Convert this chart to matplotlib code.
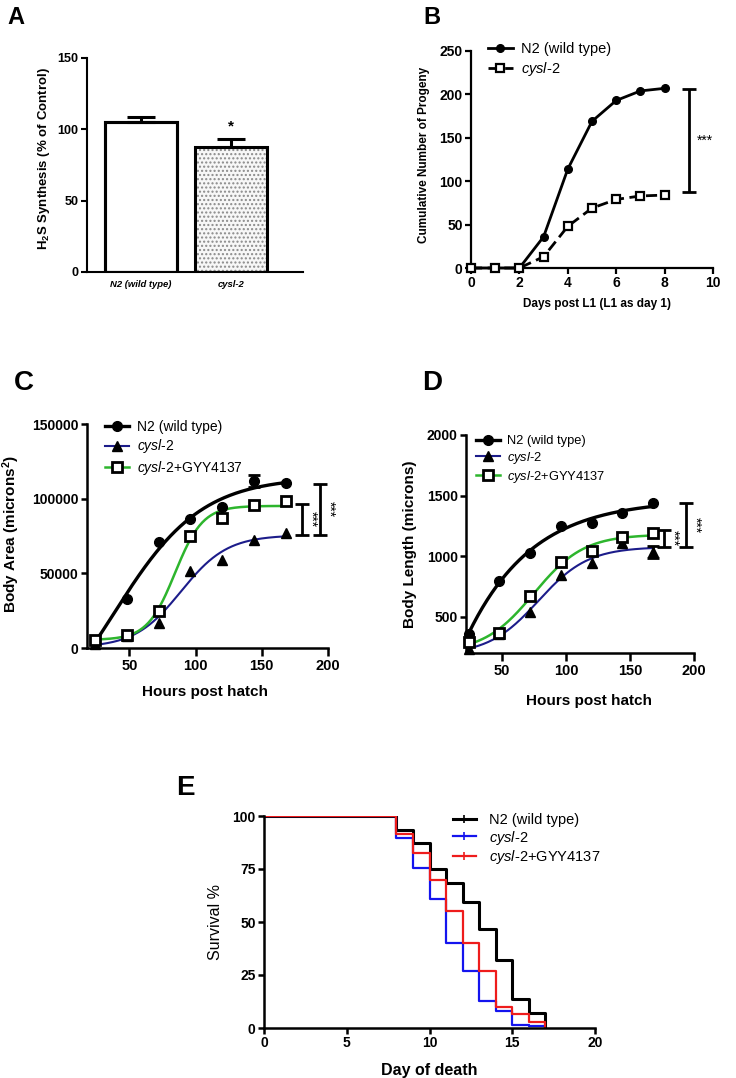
import numpy as np
import matplotlib
matplotlib.use('Agg')
import matplotlib.pyplot as plt
from matplotlib.lines import Line2D

plt.rcParams['font.family'] = ['Liberation Sans', 'DejaVu Sans']
plt.rcParams['mathtext.fontset'] = 'custom'
plt.rcParams['mathtext.rm'] = 'Liberation Sans'
plt.rcParams['mathtext.it'] = 'Liberation Sans:italic'
plt.rcParams['mathtext.bf'] = 'Liberation Sans:bold'

# A - H2S synthesis
h2s_groups = ['N2 (wild type)', 'cysl-2']
h2s_mean = [105.2, 87.9]
h2s_sem = [3.3, 5.4]

# B - brood size
days = [0, 1, 2, 3, 4, 5, 6, 7, 8]
progeny_n2 = [0, 0, 0, 36, 114, 169, 193, 204, 207]
progeny_cysl2 = [0, 0, 0, 13, 48, 69, 79, 83, 84]
progeny_sig = [9, 88, 206]

# C / D - growth
hours = [24, 48, 72, 96, 120, 144, 168]
area_n2 = [4500, 33000, 71000, 86600, 94200, 111600, 110300]
area_n2_err = [0, 0, 0, 0, 0, 4000, 0]
area_cysl2 = [2500, 8000, 16700, 51300, 59100, 72500, 77000]
area_gyy = [5600, 8900, 25000, 74800, 87000, 95500, 98200]
area_sig = [(180, 75900, 96400), (193.6, 75900, 110000)]

length_n2 = [357, 797, 1023, 1251, 1270, 1359, 1438]
length_cysl2 = [230, 357, 536, 844, 940, 1105, 1034]
length_cysl2_err = [0, 0, 0, 0, 0, 0, 50]
length_gyy = [288, 368, 673, 949, 1042, 1160, 1190]
length_sig = [(176.7, 1078, 1215), (193.6, 1078, 1436)]

# E - survival
death_days = [0, 8, 9, 10, 11, 12, 13, 14, 15, 16, 17]
surv_n2 = [100, 93.6, 87.3, 74.8, 68.2, 59.2, 46.6, 32.1, 13.6, 7.1, 0]
surv_cysl2 = [100, 89.7, 75.5, 60.7, 40.0, 27.0, 12.8, 8.1, 1.5, 0.8, 0]
surv_gyy = [100, 91.7, 82.6, 69.8, 55.2, 40.0, 27.1, 9.9, 6.6, 2.8, 0]

CYSL = r'$\mathit{cysl}$-$\mathit{2}$'
NAVY = '#1c1c8a'
GREEN = '#2db52d'
W, H = 736, 1078

fig = plt.figure(figsize=(W / 100, H / 100), dpi=100)


def px_axes(x0, y0, x1, y1):
    return fig.add_axes([x0 / W, 1 - y1 / H, (x1 - x0) / W, (y1 - y0) / H])


def style(ax, lw=1.6, size=10):
    for s in ['top', 'right']:
        ax.spines[s].set_visible(False)
    for s in ['left', 'bottom']:
        ax.spines[s].set_linewidth(lw)
    ax.tick_params(direction='out', length=4, width=lw, labelsize=size, pad=2)
    for lab in ax.get_xticklabels() + ax.get_yticklabels():
        lab.set_fontweight('bold')


def fit_sigmoid(x, y):
    # least squares logistic fit: grid over midpoint/slope, linear bottom/top
    x = np.asarray(x, float)
    y = np.asarray(y, float)
    m, k = np.meshgrid(np.linspace(-100, 250, 701), np.linspace(2, 120, 237))
    m, k = m.ravel()[:, None], k.ravel()[:, None]
    s = 1 / (1 + np.exp((m - x[None, :]) / k))
    sm = s.mean(1, keepdims=True)
    ym = y.mean()
    var = ((s - sm) ** 2).sum(1, keepdims=True)
    slope = ((s - sm) * (y - ym)).sum(1, keepdims=True) / np.where(var > 0, var, 1)
    icpt = ym - slope * sm
    sse = ((icpt + slope * s - y) ** 2).sum(1)
    i = np.argmin(sse)
    b, t, mi, ki = icpt[i, 0], slope[i, 0], m[i, 0], k[i, 0]
    return lambda xx: b + t / (1 + np.exp((mi - xx) / ki))


def sig_bar(ax, sig, dx, rot=270):
    for x, lo, hi in sig:
        ax.errorbar(x, (lo + hi) / 2, yerr=(hi - lo) / 2, fmt='none', ecolor='k',
                    elinewidth=2, capsize=5, capthick=2, clip_on=False)
        ax.text(x + dx, (lo + hi) / 2, '***', rotation=rot, ha='center', va='center',
                fontsize=10, clip_on=False)


# ---------------- A ----------------
ax = px_axes(87, 58, 303, 272)
xpos = np.arange(len(h2s_groups))
ax.bar(xpos[1], h2s_mean[1], width=0.8, color='#f7f7f7', edgecolor='#8a8a8a',
       hatch='....', linewidth=0)
ax.bar(xpos, h2s_mean, width=0.8, fill=False, edgecolor='black', linewidth=2.2)
ax.bar(xpos[0], h2s_mean[0], width=0.8, color='white', edgecolor='black', linewidth=2.2, zorder=0)
ax.errorbar(xpos, h2s_mean, yerr=[[0, 0], h2s_sem], fmt='none', ecolor='black',
            elinewidth=2.2, capsize=10, capthick=2.2)
ax.text(xpos[1], h2s_mean[1] + h2s_sem[1] + 4, '*', ha='center', va='bottom',
        fontsize=11, fontweight='bold')
ax.set_xlim(-0.6, 1.8)
ax.set_ylim(0, 150)
ax.set_yticks([0, 50, 100, 150])
ax.set_xticks(xpos)
ax.set_xticklabels(h2s_groups)
style(ax, lw=1.5, size=9)
ax.tick_params(axis='x', length=0, pad=6, labelsize=6.8)
for lab in ax.get_xticklabels():
    lab.set_fontstyle('italic')
ax.set_ylabel(r'H$_\mathbf{2}$S Synthesis (% of Control)', fontsize=9.5, fontweight='bold')
ax.yaxis.set_label_coords(-0.16, 0.53)

# ---------------- B ----------------
ax = px_axes(471, 51, 713, 268)
ax.plot(days, progeny_n2, color='black', lw=2, marker='o', ms=5.5, clip_on=False,
        label='N2 (wild type)', zorder=3)
ax.plot(days, progeny_cysl2, color='black', lw=2, ls=(0, (4, 2)), marker='s', ms=5.5,
        mfc='white', mec='black', mew=1.6, clip_on=False, label=CYSL, zorder=3)
sig_bar(ax, [tuple(progeny_sig)], 0.65, rot=0)
ax.set_xlim(0, 10)
ax.set_ylim(0, 250)
ax.set_xticks(range(0, 11, 2))
ax.set_yticks(range(0, 251, 50))
style(ax, lw=1.6, size=10)
ax.set_ylabel('Cumulative Number of Progeny', fontsize=8.5, fontweight='bold')
ax.yaxis.set_label_coords(-0.17, 0.52)
ax.set_xlabel('Days post L1 (L1 as day 1)', fontsize=8.5, fontweight='bold')
ax.xaxis.set_label_coords(0.52, -0.14)
ax.legend(loc='upper left', bbox_to_anchor=(0.07, 1.04), frameon=False, fontsize=10.5,
          borderaxespad=0, borderpad=0, handlelength=1.7, handletextpad=0.6,
          labelspacing=0.25)


# ---------------- C / D ----------------
def growth(ax, n2, n2_err, cy, cy_err, gyy, sig, dx, xmin, ylim, yticks, ylabel):
    xs = np.linspace(min(hours), max(hours), 200)
    ax.plot(xs, fit_sigmoid(hours, n2)(xs), color='black', lw=2.4, zorder=2)
    ax.plot(xs, fit_sigmoid(hours, cy)(xs), color=NAVY, lw=1.5, zorder=2)
    ax.plot(xs, fit_sigmoid(hours, gyy)(xs), color=GREEN, lw=1.8, zorder=2)
    h = np.array(hours)
    for vals, err in [(n2, n2_err), (cy, cy_err)]:
        if err is not None:
            e = np.array(err)
            sel = e > 0
            ax.errorbar(h[sel], np.array(vals)[sel], yerr=e[sel], fmt='none',
                        ecolor='black', elinewidth=2, capsize=4, capthick=2, zorder=3)
    ax.plot(hours, n2, ls='none', marker='o', ms=7, color='black', clip_on=False, zorder=4)
    ax.plot(hours, cy, ls='none', marker='^', ms=6.5, color='black', clip_on=False, zorder=4)
    ax.plot(hours, gyy, ls='none', marker='s', ms=7.5, mfc='white', mec='black', mew=2,
            clip_on=False, zorder=5)
    sig_bar(ax, sig, dx)
    ax.set_xlim(xmin, 200)
    ax.set_ylim(*ylim)
    ax.set_xticks([50, 100, 150, 200])
    ax.set_yticks(yticks)
    style(ax, lw=1.8, size=10)
    ax.tick_params(axis='x', length=6, labelsize=10.5)
    ax.set_xlabel('Hours post hatch', fontsize=11, fontweight='bold')
    ax.set_ylabel(ylabel, fontsize=11, fontweight='bold')
    handles = [
        Line2D([], [], color='black', lw=2.4, marker='o', ms=7, mfc='black', mec='black'),
        Line2D([], [], color=NAVY, lw=1.5, marker='^', ms=6.5, mfc='black', mec='black'),
        Line2D([], [], color=GREEN, lw=1.8, marker='s', ms=7, mfc='white', mec='black', mew=2),
    ]
    return handles


ax = px_axes(87, 424, 328, 648)
hd = growth(ax, area_n2, area_n2_err, area_cysl2, None, area_gyy, area_sig, 7.5, 18,
            (0, 150000), [0, 50000, 100000, 150000], r'Body Area (microns$^\mathbf{2}$)')
ax.yaxis.set_label_coords(-0.27, 0.51)
ax.xaxis.set_label_coords(0.49, -0.165)
ax.legend(hd, ['N2 (wild type)', CYSL, CYSL + '+GYY4137'], loc='upper left',
          bbox_to_anchor=(0.075, 1.02), frameon=False, fontsize=10, borderaxespad=0,
          borderpad=0, handlelength=1.7, handletextpad=0.6, labelspacing=0.28)

ax = px_axes(466, 435, 694, 653)
hd = growth(ax, length_n2, None, length_cysl2, length_cysl2_err, length_gyy, length_sig,
            7.0, 22, (200, 2000), [500, 1000, 1500, 2000], 'Body Length (microns)')
ax.yaxis.set_label_coords(-0.215, 0.5)
ax.xaxis.set_label_coords(0.54, -0.19)
ax.legend(hd, ['N2 (wild type)', CYSL, CYSL + '+GYY4137'], loc='upper left',
          bbox_to_anchor=(0.045, 1.0), frameon=False, fontsize=9.3, borderaxespad=0,
          borderpad=0, handlelength=1.8, handletextpad=0.6, labelspacing=0.22)

# ---------------- E ----------------
ax = px_axes(264, 816, 595, 1028)
ax.plot(death_days, surv_n2, drawstyle='steps-post', color='black', lw=2.2, label='N2 (wild type)')
ax.plot(death_days, surv_cysl2, drawstyle='steps-post', color='#1414ee', lw=1.6, label=CYSL)
ax.plot(death_days, surv_gyy, drawstyle='steps-post', color='#ee1c1c', lw=1.6,
        label=CYSL + '+GYY4137')
ax.set_xlim(0, 20)
ax.set_ylim(0, 100)
ax.set_xticks([0, 5, 10, 15, 20])
ax.set_yticks([0, 25, 50, 75, 100])
style(ax, lw=1.8, size=10)
ax.set_ylabel('Survival %', fontsize=11.5)
ax.yaxis.set_label_coords(-0.125, 0.5)
ax.set_xlabel('Day of death', fontsize=11.5, fontweight='bold')
ax.xaxis.set_label_coords(0.5, -0.165)
hd = [Line2D([], [], color=c, lw=lw, marker='|', ms=6, mew=1.2)
      for c, lw in [('black', 2.2), ('#1414ee', 1.6), ('#ee1c1c', 1.6)]]
ax.legend(hd, ['N2 (wild type)', CYSL, CYSL + '+GYY4137'], loc='upper left',
          bbox_to_anchor=(0.57, 1.015), frameon=False, fontsize=10.5, borderaxespad=0,
          borderpad=0, handlelength=1.6, handletextpad=0.9, labelspacing=0.12)

# panel letters
for letter, x, y, fs in [('A', 16, 18, 17), ('B', 432, 18, 17), ('C', 24, 383, 20),
                         ('D', 432, 383, 20), ('E', 185, 788, 20)]:
    fig.text(x / W, 1 - y / H, letter, fontsize=fs, fontweight='bold', ha='center', va='center')

fig.savefig('out.png', dpi=100)
